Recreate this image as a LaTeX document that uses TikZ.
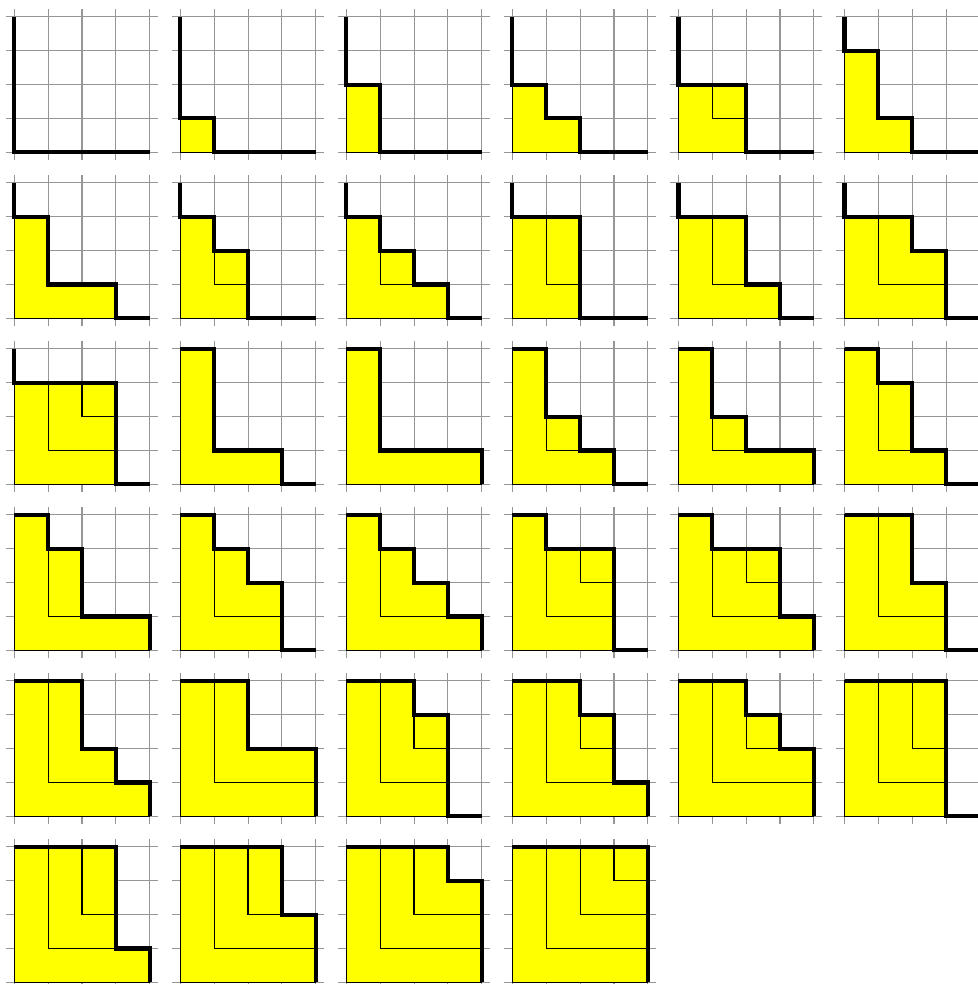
\documentclass[tikz,border=0pt]{standalone}
\definecolor{pyellow}{RGB}{255,255,0}
\definecolor{pgrid}{RGB}{150,150,150}
\tikzset{
  gridln/.style={draw=pgrid, line width=0.8pt},
  hookln/.style={draw=black, line width=0.9pt},
  bound/.style={draw=black, line width=3.1pt},
  cellfill/.style={fill=pyellow, draw=black, line width=0.8pt}
}
% #1 column, #2 row, #3..#6 row lengths from bottom to top
\newcommand\ppanel[6]{%
  \edef\bnd{(0,4) \ifnum#6>0 -- (#6,4)\fi\space -- (#6,3) \ifnum#5>#6 -- (#5,3)\fi\space -- (#5,2) \ifnum#4>#5 -- (#4,2)\fi\space -- (#4,1) \ifnum#3>#4 -- (#3,1)\fi\space -- (#3,0) \ifnum#3<4 -- (4,0)\fi}%
  \begin{scope}[shift={({(14.3+166.04*#1)*0.75pt},{(831.7-166*#2)*0.75pt})}, x=25.39pt, y=25.39pt]
    \foreach \k in {0,...,4} {
      \draw[gridln] (\k,-0.24) -- (\k,4.24);
      \draw[gridln] (-0.24,\k) -- (4.24,\k);
    }
    \filldraw[cellfill] \bnd -- (0,0) -- cycle;
    \begin{scope}
      \clip \bnd -- (0,0) -- cycle;
      \draw[hookln] (1,4) |- (4,1) (2,4) |- (4,2) (3,4) |- (4,3);
    \end{scope}
    \draw[bound] \bnd;
  \end{scope}}
\begin{document}
\begin{tikzpicture}
\useasboundingbox (0,0) rectangle (732.75pt,738pt);
% row 0
\ppanel{0}{0}{0}{0}{0}{0}
\ppanel{1}{0}{1}{0}{0}{0}
\ppanel{2}{0}{1}{1}{0}{0}
\ppanel{3}{0}{2}{1}{0}{0}
\ppanel{4}{0}{2}{2}{0}{0}
\ppanel{5}{0}{2}{1}{1}{0}
% row 1
\ppanel{0}{1}{3}{1}{1}{0}
\ppanel{1}{1}{2}{2}{1}{0}
\ppanel{2}{1}{3}{2}{1}{0}
\ppanel{3}{1}{2}{2}{2}{0}
\ppanel{4}{1}{3}{2}{2}{0}
\ppanel{5}{1}{3}{3}{2}{0}
% row 2
\ppanel{0}{2}{3}{3}{3}{0}
\ppanel{1}{2}{3}{1}{1}{1}
\ppanel{2}{2}{4}{1}{1}{1}
\ppanel{3}{2}{3}{2}{1}{1}
\ppanel{4}{2}{4}{2}{1}{1}
\ppanel{5}{2}{3}{2}{2}{1}
% row 3
\ppanel{0}{3}{4}{2}{2}{1}
\ppanel{1}{3}{3}{3}{2}{1}
\ppanel{2}{3}{4}{3}{2}{1}
\ppanel{3}{3}{3}{3}{3}{1}
\ppanel{4}{3}{4}{3}{3}{1}
\ppanel{5}{3}{3}{3}{2}{2}
% row 4
\ppanel{0}{4}{4}{3}{2}{2}
\ppanel{1}{4}{4}{4}{2}{2}
\ppanel{2}{4}{3}{3}{3}{2}
\ppanel{3}{4}{4}{3}{3}{2}
\ppanel{4}{4}{4}{4}{3}{2}
\ppanel{5}{4}{3}{3}{3}{3}
% row 5
\ppanel{0}{5}{4}{3}{3}{3}
\ppanel{1}{5}{4}{4}{3}{3}
\ppanel{2}{5}{4}{4}{4}{3}
\ppanel{3}{5}{4}{4}{4}{4}
\end{tikzpicture}
\end{document}
